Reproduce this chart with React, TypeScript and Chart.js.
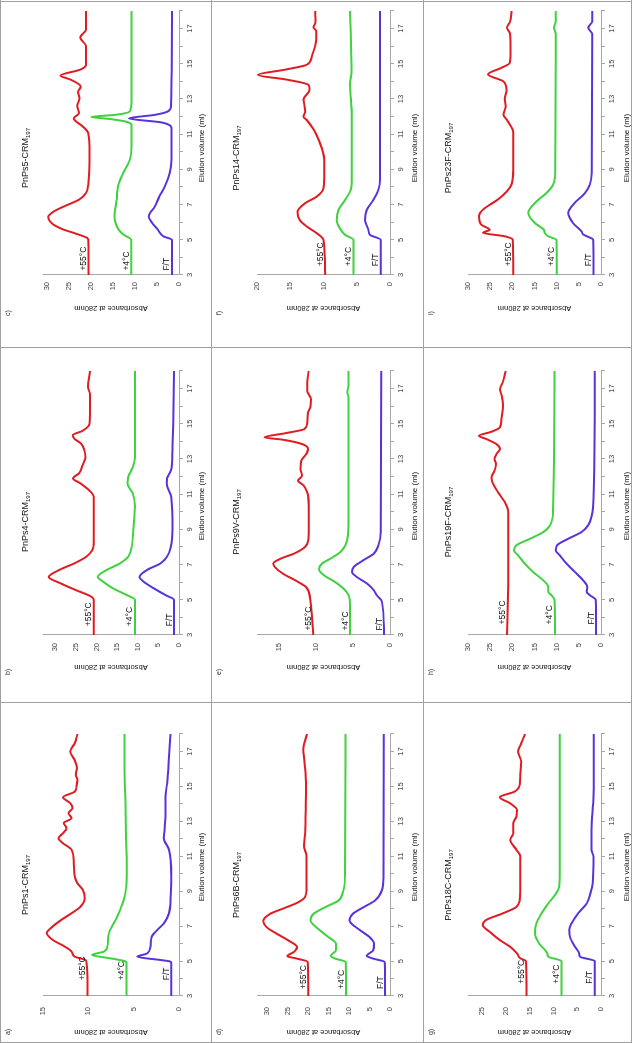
import React, { useEffect, useRef } from "react";
import { Chart, registerables } from "chart.js";

Chart.register(...registerables);
const FONT = "'Liberation Sans', Arial, sans-serif";
Chart.defaults.font.family = FONT;

type Pt = [number, number];

// ---------- labels / categories ----------
const xMin = 3;
const xMax = 18;
const xTickLabels = [3, 5, 7, 9, 11, 13, 15, 17];
const seriesNames = ["+55°C", "+4°C", "F/T"];
const panelLetters = ["a)", "b)", "c)", "d)", "e)", "f)", "g)", "h)", "i)"];
const conjugates = ["PnPs1", "PnPs4", "PnPs5", "PnPs6B", "PnPs9V", "PnPs14", "PnPs18C", "PnPs19F", "PnPs23F"];
const carrier = "CRM";
const carrierSub = "197";
const yMaxima = [15, 33, 31, 32.5, 18, 20, 28, 30, 30];
const xTitle = "Elution volume (ml)";
const yTitle = "Absorbance at 280nm";

// ---------- series data [elution ml, absorbance] ----------
const a55: Pt[] = [[3,10.1],[4,10.1],[4.9,10.2],[5.06,10.3],[5.25,11.5],[5.54,11.85],[5.83,12.6],[6.2,13.9],[6.6,14.6],[6.97,13.95],[7.35,13.0],[7.74,11.85],[8.1,10.9],[8.6,10.4],[9.07,10.6],[9.46,11.2],[9.84,11.5],[10.6,11.6],[11.37,11.85],[11.75,12.8],[12.03,13.3],[12.32,12.8],[12.6,12.4],[12.9,12.7],[13.18,11.85],[13.47,12.2],[13.75,11.75],[14.04,12.0],[14.38,12.8],[14.7,11.5],[15.0,11.3],[15.38,11.2],[15.66,11.4],[16.04,11.25],[16.5,11.5],[17.0,12.0],[17.47,11.5],[18,11.2]];
const a4: Pt[] = [[3,5.8],[4.9,5.8],[5.0,6.0],[5.16,7.6],[5.35,9.6],[5.54,8.3],[5.83,7.9],[6.4,7.8],[6.78,7.6],[7.35,7.0],[7.93,6.5],[8.69,6.0],[9.46,5.8],[10.2,5.75],[12,5.85],[14,5.9],[16,6.0],[18,6.0]];
const aFT: Pt[] = [[3,0.85],[4.9,0.85],[4.98,1.0],[5.06,2.0],[5.25,4.6],[5.44,3.5],[5.83,3.15],[6.4,3.0],[6.78,2.4],[7.16,1.67],[7.74,1.1],[8.5,0.93],[9.84,0.85],[11.37,1.1],[12.03,1.67],[12.5,1.6],[13.27,1.5],[14.4,1.5],[15.2,1.3],[16.7,1.1],[18,0.93]];

const b55: Pt[] = [[3,20.7],[5,20.7],[5.18,21.3],[5.55,25],[5.93,28.7],[6.3,31.6],[6.69,29.1],[7.07,25.4],[7.45,22.5],[7.8,21.1],[8.3,20.7],[10.85,20.7],[11.2,21.7],[11.6,23.8],[11.9,25.7],[12.2,24.2],[12.65,23.4],[13.1,22.7],[13.5,22.95],[13.88,23.8],[14.16,25.4],[14.35,25.8],[14.6,23.4],[15,21.7],[15.8,21.6],[16.7,21.6],[17.1,22.1],[18,21.6]];
const b4: Pt[] = [[3,10.7],[5,10.7],[5.27,12.7],[5.65,16],[6.03,18.4],[6.3,19.7],[6.69,17.6],[7.07,14.3],[7.45,12.3],[8.0,11.5],[8.96,11.1],[10.3,10.7],[11.04,11.2],[11.6,12.5],[11.98,12.3],[12.55,11.2],[13.1,10.7],[15,10.7],[18,10.7]];
const bFT: Pt[] = [[3,1.2],[5,1.2],[5.27,3.3],[5.65,6.1],[6.03,8.6],[6.3,9.6],[6.69,7.8],[7.07,4.5],[7.45,2.9],[8.0,2.0],[8.96,1.6],[10.85,1.9],[11.6,3.0],[11.9,2.9],[12.4,1.9],[13.5,1.6],[15,1.4],[18,1.2]];

const c55: Pt[] = [[3,20.6],[5,20.7],[5.1,20.9],[5.35,23.5],[5.6,26.5],[5.9,28.8],[6.3,29.8],[6.6,28.6],[6.9,26.2],[7.28,22.8],[7.66,21.2],[8.1,20.7],[10,20.4],[11.07,20.7],[11.45,22],[11.9,24],[12.2,22.8],[12.6,23.2],[13.05,22.7],[13.4,23],[13.7,22.4],[14.1,24.7],[14.33,27],[14.67,22.5],[14.95,21.2],[16,21.2],[16.5,22.5],[16.95,21.2],[18,21.2]];
const c4: Pt[] = [[3,10.9],[5,10.9],[5.3,12.7],[5.6,13.8],[6.33,14.7],[7.3,14.2],[8.04,13.9],[8.8,12.7],[9.55,11.2],[10.3,10.8],[11.45,10.8],[11.6,11.0],[11.73,12.3],[11.87,16],[11.98,20.0],[12.1,14.5],[12.3,11.2],[13,10.8],[18,10.8]];
const cFT: Pt[] = [[3,1.6],[5,1.6],[5.2,3.6],[5.6,4.9],[5.95,6.1],[6.33,6.9],[6.9,5.5],[7.5,4.4],[8.04,3.2],[8.8,2.1],[9.55,1.7],[11.35,1.7],[11.67,4],[11.9,11.4],[12.1,5.5],[12.3,2.5],[12.6,1.8],[18,1.6]];

const d55: Pt[] = [[3,20],[4.95,20.1],[5.14,22.7],[5.28,25.1],[5.52,23.5],[5.8,22.7],[6.19,24.9],[6.57,27.7],[6.95,30.2],[7.29,31],[7.7,29.3],[8.08,25.3],[8.37,22.4],[8.65,20.8],[9.2,20.4],[11,20.4],[11.6,21.0],[12.5,20.7],[13.6,20.6],[15,20.5],[16.8,21.1],[17.1,21.2],[18,20.3]];
const d4: Pt[] = [[3,10.75],[4.95,10.8],[5.14,13.4],[5.3,14.5],[5.62,13.2],[6.0,13.2],[6.38,15.1],[6.76,17.1],[7.33,19.4],[7.7,18.7],[8.08,15.9],[8.46,12.6],[9.03,11.4],[10,11.0],[18,10.9]];
const dFT: Pt[] = [[3,1.2],[4.95,1.3],[5.14,4.1],[5.3,5.7],[5.62,4.1],[6.0,3.9],[6.38,5.0],[6.76,7.3],[7.33,9.9],[7.7,9.1],[8.08,6.5],[8.46,3.7],[9.03,2.0],[9.8,1.6],[18,1.5]];

const e55: Pt[] = [[3,10.4],[4.9,10.75],[5.45,11],[5.74,11.4],[6.1,12.8],[6.5,14.55],[6.87,15.6],[7.06,15.8],[7.34,14.8],[7.62,13.0],[8,11.5],[8.38,11.06],[9,11.0],[10.36,11.0],[11.1,11.2],[11.5,11.7],[11.77,12.45],[12.06,11.9],[12.4,12.1],[12.9,12.0],[13.3,11.3],[13.57,11.1],[13.85,11.9],[14.1,14.55],[14.23,17],[14.47,14.1],[14.7,11.6],[15.08,11.2],[15.64,11.1],[16,10.75],[16.4,10.7],[16.87,11.2],[17.34,11.2],[18,11]];
const e4: Pt[] = [[3,5.4],[5,5.45],[5.26,5.6],[5.64,6.3],[6.0,7.4],[6.4,8.96],[6.74,9.6],[7.06,9.2],[7.34,8.06],[7.72,6.7],[8.1,6.05],[8.66,5.7],[10,5.6],[16.5,5.6],[16.8,5.8],[17.2,5.6],[18,5.6]];
const eFT: Pt[] = [[3,0.8],[4.9,1.1],[5.26,1.8],[5.55,2.2],[5.92,3.1],[6.3,4.5],[6.58,5.15],[6.87,4.9],[7.25,3.6],[7.62,2.2],[8.1,1.57],[8.85,1.25],[18,1.2]];

const f55: Pt[] = [[3,9.75],[5,10],[5.37,11],[5.75,12.5],[6.13,13.6],[6.6,13.9],[7.08,12.75],[7.46,11],[7.93,10],[8.5,9.9],[9.55,9.9],[10.7,10.75],[11.27,11.5],[11.8,12.5],[12.0,13],[12.3,12.75],[12.6,12.85],[12.96,13],[13.53,12.1],[13.8,12.25],[14.1,15.5],[14.37,19.85],[14.67,15.75],[14.95,12.5],[15.43,11.75],[16.4,11.1],[16.87,11.1],[17.06,11.5],[17.4,11.2],[18,11.25]];
const f4: Pt[] = [[3,5.5],[5,5.5],[5.28,6.75],[5.56,7.4],[6.13,8],[6.7,7.75],[7.27,6.75],[7.84,5.9],[8.4,5.75],[12,5.75],[13.9,6.0],[14.5,5.8],[18,6.0]];
const fFT: Pt[] = [[3,1.4],[5,1.4],[5.28,3],[5.56,3.25],[6.13,3.75],[6.7,3.5],[7.27,2.5],[7.84,1.75],[8.4,1.5],[18,1.5]];

const g55: Pt[] = [[3,15.7],[5,15.8],[5.16,17],[5.44,17.7],[5.83,19.2],[6.2,21.3],[6.6,23.1],[7.07,24.9],[7.35,24.2],[7.74,20.6],[8.1,17.8],[8.5,17.1],[9,17.0],[11,17.0],[11.37,17.8],[11.94,19.1],[12.3,18.5],[12.9,18.5],[13.28,17.8],[13.66,17.7],[14.04,19.2],[14.38,21.3],[14.7,18.2],[15.09,17.1],[15.66,17.0],[16.4,16.8],[17,17.5],[17.4,16.9],[18,16.0]];
const g4: Pt[] = [[3,8.3],[5,8.3],[5.25,11.1],[5.44,11.3],[5.64,11.8],[6.0,13],[6.6,13.9],[7.16,13.6],[7.74,12.5],[8.3,11.1],[8.9,9.4],[9.26,8.8],[9.84,8.7],[18,8.7]];
const gFT: Pt[] = [[3,1.3],[5,1.3],[5.25,4.4],[5.44,4.6],[5.83,5.5],[6.4,6.55],[6.78,6.7],[7.16,6.2],[7.74,4.8],[8.3,3.0],[8.9,2.2],[9.46,1.76],[11,1.6],[11.37,2.0],[12.5,2.0],[14.4,1.6],[18,1.5]];

const h55: Pt[] = [[3,21.2],[6.2,20.9],[10,20.9],[10.55,21.7],[11.1,23.2],[11.68,24.5],[11.96,24.7],[12.34,24],[12.72,23.7],[13,24],[13.28,23.6],[13.57,22.8],[13.85,23.6],[14.13,25.8],[14.32,27.5],[14.55,24.7],[14.8,22.8],[15.17,22.5],[16,22.1],[16.6,22.4],[16.96,22.8],[17.34,22.2],[18,21.5]];
const h4: Pt[] = [[3,10.4],[5,10.5],[5.26,11.15],[5.45,11.9],[5.74,11.9],[6.1,13],[6.58,15.3],[7.06,17.2],[7.53,18.7],[7.8,19.6],[8.1,19.1],[8.47,16],[8.85,13],[9.23,11.5],[10,10.8],[18,10.5]];
const hFT: Pt[] = [[3,1.1],[5,1.2],[5.26,2.5],[5.45,3.2],[5.74,3.1],[6.1,4],[6.58,5.9],[7.06,7.8],[7.53,9.3],[7.8,10.2],[8.1,9.9],[8.47,7.4],[8.85,4.4],[9.23,2.9],[9.8,2.1],[10.75,1.7],[18,1.4]];

const i55: Pt[] = [[3,19.8],[5,19.9],[5.2,21.7],[5.4,26.6],[5.57,25.1],[5.86,27],[6.34,27.5],[6.72,26.6],[7.3,23.2],[7.76,21.2],[8.14,20.2],[9,19.8],[11.1,19.8],[11.8,21.2],[12.1,22],[12.6,21.5],[13,21.7],[13.55,21.3],[14.0,22],[14.4,25.5],[14.77,22.5],[15.05,20.6],[16,20.4],[16.7,20.5],[17.05,21.2],[17.4,20.5],[18,20.2]];
const i4: Pt[] = [[3,10],[5,10.05],[5.2,11.9],[5.4,12.7],[5.57,12.9],[5.95,14.9],[6.53,16.4],[7.1,14.9],[7.66,12.3],[8.14,10.8],[9,10.3],[16.7,10.2],[17.05,10.6],[17.4,10.2],[18,10.2]];
const iFT: Pt[] = [[3,1.7],[5,1.75],[5.3,4],[5.48,4.4],[5.95,6.3],[6.53,7.4],[7.1,5.9],[7.66,3.6],[8.14,2.5],[8.8,2.1],[16.7,2.0],[17.05,2.9],[17.4,2.0],[18,2.0]];

const PANEL_SERIES: Pt[][][] = [
  [a55, a4, aFT], [b55, b4, bFT], [c55, c4, cFT],
  [d55, d4, dFT], [e55, e4, eFT], [f55, f4, fFT],
  [g55, g4, gFT], [h55, h4, hFT], [i55, i4, iFT],
];

// ---------- layout / style (not data) ----------
const COLORS = ["#e01c22", "#3fd23f", "#5a32dc"];
const AXIS_COLOR = "#a8a8a8";
const LINE_COLOR = "#a0a0a0";
const labelStart = [3.9, 3.5, 3.25, 3.4, 3.25, 3.5, 3.7, 3.6, 3.5];
const COLS = [
  { left: 1, width: 340, plotL: 46, plotR: 308, tickPad: 11, yTitleX: 10, letterX: 10, titleX: 157, xTitleX: 175 },
  { left: 341, width: 355, plotL: 67, plotR: 331, tickPad: 8, yTitleX: 35, letterX: 30, titleX: 180, xTitleX: 196 },
  { left: 696, width: 346, plotL: 72, plotR: 336, tickPad: 7, yTitleX: 39, letterX: 34, titleX: 189, xTitleX: 199 },
];
const ROWS = [
  { top: 0, height: 211, plotT: 43, plotB: 179, xTitleY: 202 },
  { top: 211, height: 212, plotT: 46, plotB: 179, xTitleY: 204 },
  { top: 423, height: 208, plotT: 45, plotB: 178, xTitleY: 204 },
];

function makeTextPlugin(idx: number) {
  const col = COLS[idx % 3];
  const row = ROWS[Math.floor(idx / 3)];
  return {
    id: "panelText" + idx,
    afterDraw(chart: any) {
      const ctx: CanvasRenderingContext2D = chart.ctx;
      const area = chart.chartArea;
      const xs = chart.scales.x;
      const ys = chart.scales.y;
      ctx.save();
      ctx.fillStyle = "#333";
      ctx.font = `7px ${FONT}`;
      ctx.textAlign = "center";
      ctx.textBaseline = "middle";
      ctx.fillText(panelLetters[idx], col.letterX, 8);

      const base = conjugates[idx] + "-" + carrier;
      ctx.font = `9px ${FONT}`;
      const w1 = ctx.measureText(base).width;
      ctx.font = `6px ${FONT}`;
      const w2 = ctx.measureText(carrierSub).width;
      const sx = col.titleX - (w1 + w2) / 2;
      ctx.fillStyle = "#111";
      ctx.textAlign = "left";
      ctx.textBaseline = "alphabetic";
      ctx.font = `9px ${FONT}`;
      ctx.fillText(base, sx, 28);
      ctx.font = `6px ${FONT}`;
      ctx.fillText(carrierSub, sx + w1, 30);

      ctx.font = `8px ${FONT}`;
      ctx.textAlign = "center";
      ctx.textBaseline = "middle";
      ctx.fillText(xTitle, col.xTitleX, row.xTitleY);

      ctx.save();
      ctx.translate(col.yTitleX, (area.top + area.bottom) / 2);
      ctx.rotate(-Math.PI / 2);
      ctx.font = `7.5px ${FONT}`;
      ctx.fillText(yTitle, 0, 0);
      ctx.restore();

      ctx.font = `8.5px ${FONT}`;
      ctx.textAlign = "left";
      ctx.textBaseline = "alphabetic";
      PANEL_SERIES[idx].forEach((pts, k) => {
        const px = xs.getPixelForValue(labelStart[idx]);
        const py = ys.getPixelForValue(pts[0][1]) - 2.5;
        ctx.fillText(seriesNames[k], px, py);
      });
      ctx.restore();
    },
  };
}

function Panel({ idx }: { idx: number }) {
  const ref = useRef<HTMLCanvasElement>(null);
  const col = COLS[idx % 3];
  const row = ROWS[Math.floor(idx / 3)];
  useEffect(() => {
    const canvas = ref.current;
    if (!canvas) return;
    const tickFont = { size: 7.5, family: FONT };
    const chart = new Chart(canvas, {
      type: "line",
      data: {
        datasets: PANEL_SERIES[idx].map((pts, k) => ({
          label: seriesNames[k],
          data: pts.map(([x, y]) => ({ x, y })),
          borderColor: COLORS[k],
          backgroundColor: COLORS[k],
          borderWidth: 2,
          pointRadius: 0,
          fill: false,
          cubicInterpolationMode: "monotone" as const,
        })),
      },
      options: {
        animation: false,
        responsive: false,
        events: [],
        layout: { padding: { left: 0, right: col.width - col.plotR, top: row.plotT, bottom: 0 } },
        plugins: { legend: { display: false }, tooltip: { enabled: false }, title: { display: false } },
        scales: {
          x: {
            type: "linear",
            min: xMin,
            max: xMax,
            afterFit: (s: any) => { s.height = row.height - row.plotB; },
            ticks: {
              stepSize: 1,
              maxTicksLimit: 100,
              autoSkip: false,
              maxRotation: 0,
              minRotation: 0,
              padding: 2,
              color: "#404040",
              font: tickFont,
              callback: (v: any) => (xTickLabels.includes(Number(v)) ? String(v) : ""),
            },
            grid: { drawOnChartArea: false, drawTicks: true, tickLength: 4, color: AXIS_COLOR },
            border: { display: true, color: AXIS_COLOR, width: 1 },
          },
          y: {
            type: "linear",
            min: 0,
            max: yMaxima[idx],
            afterFit: (s: any) => { s.width = col.plotL; },
            ticks: { stepSize: 5, includeBounds: false, padding: col.tickPad, color: "#404040", font: tickFont },
            grid: { drawOnChartArea: false, drawTicks: false, color: AXIS_COLOR },
            border: { display: true, color: AXIS_COLOR, width: 1 },
          },
        },
      } as any,
      plugins: [makeTextPlugin(idx)],
    });
    return () => chart.destroy();
  }, [idx]);
  return (
    <canvas
      ref={ref}
      width={col.width}
      height={row.height}
      style={{ position: "absolute", left: col.left, top: row.top, width: col.width, height: row.height }}
    />
  );
}

export default function App() {
  const vLines = [0, 340, 695, 1041];
  const hLines = [0, 211, 423, 631];
  return (
    <div
      style={{
        position: "fixed",
        left: 0,
        top: 0,
        width: 1043,
        height: 632,
        background: "#fff",
        overflow: "hidden",
        transformOrigin: "0 0",
        transform: "translate(0px, 1043px) rotate(-90deg)",
      }}
    >
      {vLines.map((x) => (
        <div key={"v" + x} style={{ position: "absolute", left: x, top: 0, width: 1, height: 632, background: LINE_COLOR }} />
      ))}
      {hLines.map((y) => (
        <div key={"h" + y} style={{ position: "absolute", left: 0, top: y, width: 1043, height: 1, background: LINE_COLOR }} />
      ))}
      {PANEL_SERIES.map((_, i) => (
        <Panel key={i} idx={i} />
      ))}
    </div>
  );
}
